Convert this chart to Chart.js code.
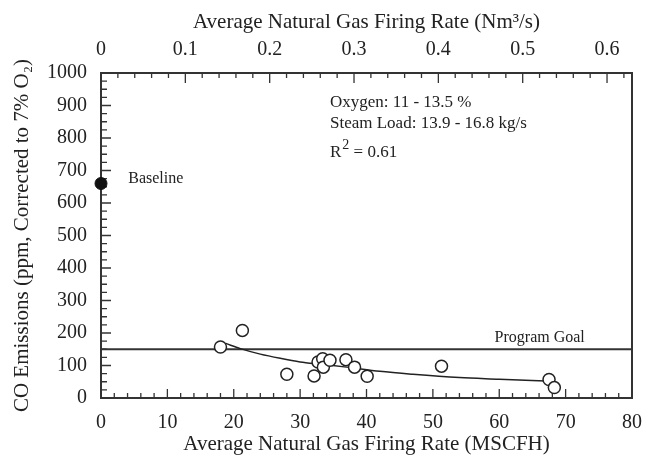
<!DOCTYPE html>
<html>
<head>
<meta charset="utf-8">
<script src="https://cdn.jsdelivr.net/npm/chart.js@4.4.0/dist/chart.umd.min.js"></script>
<style>
  html, body { margin: 0; padding: 0; background: #fff; }
</style>
</head>
<body>
<canvas id="co-chart" width="655" height="458"></canvas>
<script>
// 量測點 (MSCFH, ppm)
const firingRate = [18, 21.3, 28, 32.1, 32.7, 33.4, 33.5, 34.5, 36.9, 38.2, 40.1, 51.3, 67.5, 68.3];
const coPpm = [157, 208, 73, 68, 111, 121, 95, 116, 118, 95, 67, 98, 57, 32];

// 基準值
const baselineRate = [0];
const baselinePpm = [660];

// 迴歸曲線
const fitRate = [18.8, 21, 24, 27, 30, 33, 37, 42, 47, 54, 60, 67];
const fitPpm = [168, 152, 135, 122, 111, 104, 95, 82, 73, 63, 58, 52];

// 目標線
const goalRate = [0, 80];
const goalPpm = [150, 150];

// 刻度
const bottomTicks = [0, 10, 20, 30, 40, 50, 60, 70, 80];
const topTicks = [0, 0.1, 0.2, 0.3, 0.4, 0.5, 0.6];
const yTicks = [0, 100, 200, 300, 400, 500, 600, 700, 800, 900, 1000];

const FONT = "'Liberation Serif'";
const INK = "#222";
const LINE = "#333";

function pts(xs, ys) {
  return xs.map((x, i) => ({ x: x, y: ys[i] }));
}

// 內側刻度線
const axisMarks = {
  id: "axisMarks",
  beforeDatasetsDraw(chart) {
    const ctx = chart.ctx;
    const a = chart.chartArea;
    const x = chart.scales.x;
    const x2 = chart.scales.x2;
    const y = chart.scales.y;
    ctx.save();
    ctx.strokeStyle = LINE;
    ctx.lineWidth = 1.3;
    ctx.beginPath();
    for (let v = 0; v <= 80; v += 2) {
      const px = x.getPixelForValue(v);
      const len = v % 10 === 0 ? 9 : 5;
      ctx.moveTo(px, a.bottom);
      ctx.lineTo(px, a.bottom - len);
    }
    for (let k = 0; k <= 31; k++) {
      const v = k * 0.02;
      const px = x2.getPixelForValue(v);
      const len = k % 5 === 0 ? 10 : 5;
      ctx.moveTo(px, a.top);
      ctx.lineTo(px, a.top + len);
    }
    for (let v = 0; v <= 1000; v += 25) {
      const py = y.getPixelForValue(v);
      const len = v % 100 === 0 ? 10 : 6;
      ctx.moveTo(a.left, py);
      ctx.lineTo(a.left + len, py);
    }
    ctx.stroke();
    // 右框線
    ctx.lineWidth = 2;
    ctx.beginPath();
    ctx.moveTo(a.right, a.top);
    ctx.lineTo(a.right, a.bottom);
    ctx.stroke();
    ctx.restore();
  },
  afterDraw(chart) {
    const ctx = chart.ctx;
    const x = chart.scales.x;
    const y = chart.scales.y;
    ctx.save();
    ctx.fillStyle = INK;
    ctx.textBaseline = "middle";
    ctx.textAlign = "left";
    ctx.font = "17px " + FONT;
    const tx = x.getPixelForValue(34.5);
    ctx.fillText("Oxygen: 11 - 13.5 %", tx, y.getPixelForValue(910));
    ctx.fillText("Steam Load: 13.9 - 16.8 kg/s", tx, y.getPixelForValue(845));
    const ry = y.getPixelForValue(754);
    ctx.fillText("R", tx, ry);
    const rw = ctx.measureText("R").width;
    ctx.font = "14px " + FONT;
    ctx.fillText("2", tx + rw + 1, ry - 8);
    const sw = ctx.measureText("2").width;
    ctx.font = "17px " + FONT;
    ctx.fillText(" = 0.61", tx + rw + sw + 1, ry);
    ctx.font = "16px " + FONT;
    ctx.fillText("Baseline", x.getPixelForValue(4.1), y.getPixelForValue(676));
    ctx.fillText("Program Goal", x.getPixelForValue(59.3), y.getPixelForValue(184));
    ctx.restore();
  },
};

const ctx = document.getElementById("co-chart").getContext("2d");
new Chart(ctx, {
  type: "scatter",
  data: {
    datasets: [
      {
        label: "CO",
        data: pts(firingRate, coPpm),
        pointStyle: "circle",
        pointRadius: 6,
        pointBackgroundColor: "#fff",
        pointBorderColor: INK,
        pointBorderWidth: 1.5,
        showLine: false,
      },
      {
        label: "Baseline",
        data: pts(baselineRate, baselinePpm),
        pointRadius: 6,
        pointBackgroundColor: "#111",
        pointBorderColor: "#111",
        showLine: false,
        clip: false,
      },
      {
        label: "Fit",
        data: pts(fitRate, fitPpm),
        showLine: true,
        pointRadius: 0,
        borderColor: INK,
        borderWidth: 1.5,
        cubicInterpolationMode: "monotone",
      },
      {
        label: "Goal",
        data: pts(goalRate, goalPpm),
        showLine: true,
        pointRadius: 0,
        borderColor: LINE,
        borderWidth: 2,
      },
    ],
  },
  options: {
    responsive: false,
    animation: false,
    layout: { padding: { left: 0, right: 22, top: 0, bottom: 0 } },
    plugins: {
      legend: { display: false },
      tooltip: { enabled: false },
    },
    scales: {
      x: {
        type: "linear",
        position: "bottom",
        min: 0,
        max: 80,
        afterBuildTicks: (s) => { s.ticks = bottomTicks.map((v) => ({ value: v })); },
        afterFit: (s) => { s.height = 60; },
        ticks: { color: INK, font: { family: FONT, size: 20 }, padding: 13, maxRotation: 0, callback: (v) => String(v) },
        grid: { display: false, drawTicks: false },
        border: { display: true, color: LINE, width: 2 },
        title: {
          display: true,
          text: "Average Natural Gas Firing Rate (MSCFH)",
          color: INK,
          font: { family: FONT, size: 21 },
          padding: { top: 0, bottom: 1 },
        },
      },
      x2: {
        type: "linear",
        position: "top",
        min: 0,
        max: 0.6296,
        afterBuildTicks: (s) => { s.ticks = topTicks.map((v) => ({ value: v })); },
        afterFit: (s) => { s.height = 73; },
        ticks: { color: INK, font: { family: FONT, size: 20 }, padding: 11, maxRotation: 0, callback: (v) => String(v) },
        grid: { display: false, drawTicks: false },
        border: { display: true, color: LINE, width: 2 },
        title: {
          display: true,
          text: "Average Natural Gas Firing Rate (Nm³/s)",
          color: INK,
          font: { family: FONT, size: 21 },
          padding: { top: 10, bottom: 0 },
        },
      },
      y: {
        type: "linear",
        min: 0,
        max: 1000,
        afterBuildTicks: (s) => { s.ticks = yTicks.map((v) => ({ value: v })); },
        afterFit: (s) => { s.width = 101; },
        ticks: { color: INK, font: { family: FONT, size: 20 }, padding: 14, callback: (v) => String(v) },
        grid: { display: false, drawTicks: false },
        border: { display: true, color: LINE, width: 2 },
        title: {
          display: true,
          text: "CO Emissions (ppm, Corrected to 7% O₂)",
          color: INK,
          font: { family: FONT, size: 21 },
          padding: { top: 10, bottom: 0 },
        },
      },
    },
  },
  plugins: [axisMarks],
});
</script>
</body>
</html>
